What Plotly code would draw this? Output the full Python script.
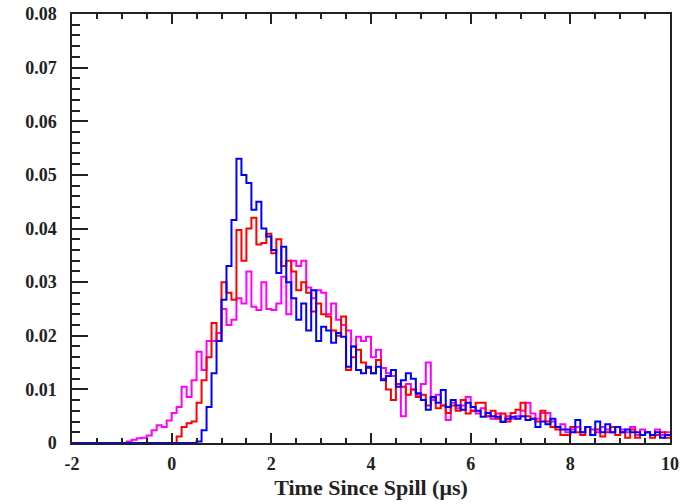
import numpy as np
import plotly.graph_objects as go

# --------------------------------------------------------------------------------------
# histogram contents, 0.1 us bins from -2 to 10, values read off in units of 1e-3

BIN_START = -2.0
BIN_WIDTH = 0.1

magenta_vals = [
    0, 0, 0, 0, 0, 0, 0, 0, 0, 0,
    0, 0.3, 0.6, 0.9, 1.0, 1.4, 2.4, 3.3, 3.0, 4.2,
    5.6, 6.7, 10.5, 8.6, 11.7, 17.0, 13.6, 19.0, 19.0, 20.5,
    25.0, 22.0, 23.0, 27.0, 26.0, 32.0, 25.4, 24.8, 30.0, 25.0,
    24.8, 26.0, 31.0, 24.0, 34.0, 33.0, 34.0, 29.0, 27.0, 28.5,
    28.0, 24.0, 26.0, 23.0, 22.0, 21.0, 18.0, 19.8, 19.0, 19.8,
    16.0, 17.4, 14.0, 13.0, 12.5, 11.0, 5.0, 11.0, 10.0, 9.0,
    11.0, 15.0, 8.0, 9.0, 7.0, 4.3, 7.5, 6.5, 7.0, 8.6,
    6.0, 5.5, 6.5, 5.0, 4.5, 5.5, 4.0, 5.0, 4.5, 5.0,
    6.0, 7.5, 5.5, 4.5, 5.6, 5.6, 4.0, 3.0, 3.5, 2.0,
    2.5, 3.0, 2.0, 3.0, 2.5, 2.0, 3.0, 2.5, 2.0, 3.0,
    2.5, 2.0, 3.0, 1.5, 2.5, 2.0, 1.5, 2.5, 1.5, 2.0,
]

red_vals = [
    0, 0, 0, 0, 0, 0, 0, 0, 0, 0,
    0, 0, 0, 0, 0, 0, 0, 0, 0, 0,
    0, 1.2, 3.0, 3.7, 4.0, 7.5, 11.7, 16.0, 22.4, 19.0,
    30.0, 28.0, 26.7, 39.7, 34.0, 40.0, 42.0, 37.0, 37.3, 39.0,
    35.4, 38.0, 33.0, 34.0, 32.0, 28.5, 30.0, 28.0, 24.5, 26.0,
    24.0, 23.6, 21.0, 20.0, 23.6, 13.6, 16.0, 17.4, 15.0, 14.0,
    13.0, 15.5, 12.0, 10.0, 8.0, 11.0, 10.5, 9.0, 10.0, 8.6,
    9.0, 7.0, 8.5, 6.5, 7.0, 5.6, 7.0, 6.0, 8.0, 5.5,
    6.0, 7.5, 7.5, 5.0, 6.0, 4.5, 5.5, 4.0, 5.6, 6.2,
    7.5, 5.0, 4.5, 4.0, 6.0, 4.0, 3.0, 2.5, 1.5, 1.5,
    3.0, 2.0, 1.5, 3.0, 1.5, 2.5, 1.2, 2.0, 3.0, 1.5,
    2.0, 1.0, 2.5, 1.0, 1.5, 2.0, 1.0, 1.5, 2.0, 1.0,
]

blue_vals = [
    0, 0, 0, 0, 0, 0, 0, 0, 0, 0,
    0, 0, 0, 0, 0, 0, 0, 0, 0, 0,
    0, 0, 0, 0, 0, 0.3, 2.4, 6.7, 13.0, 19.0,
    26.7, 33.0, 41.6, 53.0, 50.0, 48.5, 43.5, 45.0, 40.0, 38.5,
    36.0, 31.7, 36.6, 30.0, 27.0, 23.0, 26.0, 21.0, 28.5, 19.0,
    21.7, 21.0, 18.7, 20.5, 19.8, 14.2, 18.0, 13.6, 13.0, 14.2,
    13.0, 14.2, 11.7, 12.5, 13.6, 10.5, 11.7, 13.0, 12.0, 9.3,
    8.0, 6.2, 8.6, 7.5, 9.9, 6.7, 8.0, 7.0, 6.2, 7.5,
    6.7, 6.0, 4.9, 5.6, 5.0, 4.9, 3.9, 4.5, 4.9, 4.5,
    5.0, 4.3, 4.5, 3.0, 4.0, 3.5, 4.5, 3.0, 2.5, 2.5,
    2.0, 4.3, 2.0, 3.0, 1.5, 4.0, 2.0, 3.5, 2.0, 3.0,
    2.0, 2.5, 2.0, 2.0, 1.5, 2.0, 1.5, 2.0, 1.0, 1.5,
]

x_tickvals = [-2, 0, 2, 4, 6, 8, 10]
x_ticktext = ["-2", "0", "2", "4", "6", "8", "10"]
y_tickvals = [0, 0.01, 0.02, 0.03, 0.04, 0.05, 0.06, 0.07, 0.08]
y_ticktext = ["0", "0.01", "0.02", "0.03", "0.04", "0.05", "0.06", "0.07", "0.08"]

# --------------------------------------------------------------------------------------

n_bins = len(blue_vals)
edges = BIN_START + BIN_WIDTH * np.arange(n_bins + 1)


def step_trace(vals, color):
    y = np.array(vals) * 1e-3
    # repeat the last value so the final bin gets its full width with shape "hv"
    y = np.append(y, y[-1])
    return go.Scatter(
        x=edges,
        y=y,
        mode="lines",
        line=dict(color=color, width=2, shape="hv"),
        showlegend=False,
        hoverinfo="skip",
    )


fig = go.Figure()
fig.add_trace(step_trace(magenta_vals, "#ff00ff"))
fig.add_trace(step_trace(red_vals, "#ff0000"))
fig.add_trace(step_trace(blue_vals, "#0000ff"))

tick_font = dict(family="Liberation Serif", size=18, color="#222222", weight="bold")

fig.update_xaxes(
    range=[-2, 10],
    tickvals=x_tickvals,
    ticktext=x_ticktext,
    ticks="inside",
    ticklen=10,
    tickwidth=1.5,
    tickcolor="#222222",
    minor=dict(dtick=0.5, tick0=-2, ticks="inside", ticklen=5, tickwidth=1.5, tickcolor="#222222"),
    showline=True,
    linecolor="#222222",
    linewidth=1.5,
    mirror="allticks",
    showgrid=False,
    zeroline=False,
    automargin=False,
    tickfont=tick_font,
    ticklabelstandoff=4,
    title=dict(
        text="Time Since Spill (\u03bcs)",
        font=dict(family="Liberation Serif", size=22, color="#222222", weight="bold"),
        standoff=6,
    ),
)

fig.update_yaxes(
    range=[0, 0.08],
    tickvals=y_tickvals,
    ticktext=y_ticktext,
    ticks="inside",
    ticklen=16,
    tickwidth=1.5,
    tickcolor="#222222",
    minor=dict(dtick=0.002, tick0=0, ticks="inside", ticklen=8, tickwidth=1.5, tickcolor="#222222"),
    showline=True,
    linecolor="#222222",
    linewidth=1.5,
    mirror=True,
    showgrid=False,
    zeroline=False,
    automargin=False,
    tickfont=tick_font,
    ticklabelstandoff=10,
)

fig.update_layout(
    width=685,
    height=504,
    margin=dict(l=72, r=15, t=14, b=61),
    plot_bgcolor="white",
    paper_bgcolor="white",
)

# drop the page's default body margin so the figure sits at the window corner
fig.write_html(
    "out.html",
    config={"displayModeBar": False},
    post_script="document.body.style.margin = '0';",
)
